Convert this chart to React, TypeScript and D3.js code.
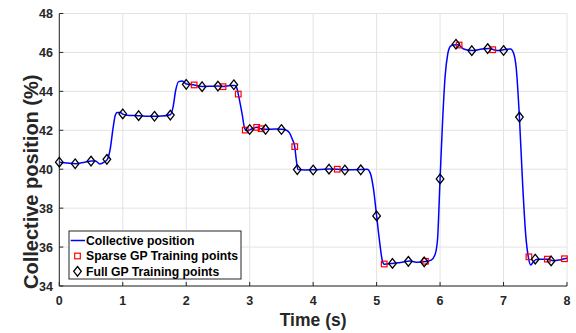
import React from "react";
import * as d3 from "d3";

const xTicks = [0, 1, 2, 3, 4, 5, 6, 7, 8];
const yTicks = [34, 36, 38, 40, 42, 44, 46, 48];

const lineT = [0, 0.12, 0.26, 0.4, 0.51, 0.57, 0.64, 0.7, 0.76, 0.8, 0.85, 0.88, 0.91, 0.96, 1.0, 1.1, 1.25, 1.4, 1.5, 1.61, 1.75, 1.79, 1.835, 1.88, 1.94, 2.0, 2.125, 2.25, 2.4, 2.5, 2.58, 2.7, 2.77, 2.8, 2.82, 2.88, 2.92, 2.95, 3.0, 3.11, 3.18, 3.25, 3.4, 3.5, 3.58, 3.63, 3.67, 3.71, 3.73, 3.76, 3.88, 4.0, 4.25, 4.38, 4.5, 4.75, 4.85, 4.9, 4.95, 5.0, 5.05, 5.09, 5.12, 5.27, 5.4, 5.52, 5.65, 5.77, 5.86, 5.92, 5.96, 6.0, 6.04, 6.08, 6.12, 6.16, 6.2, 6.28, 6.37, 6.52, 6.66, 6.77, 6.9, 7.02, 7.11, 7.16, 7.2, 7.25, 7.3, 7.35, 7.39, 7.43, 7.47, 7.53, 7.7, 7.78, 7.87, 7.96, 8.0];
const lineV = [40.36, 40.32, 40.28, 40.36, 40.42, 40.42, 40.27, 40.35, 40.52, 41.0, 42.18, 42.75, 42.92, 42.92, 42.83, 42.76, 42.75, 42.72, 42.72, 42.73, 42.8, 43.15, 44.07, 44.5, 44.53, 44.38, 44.33, 44.25, 44.26, 44.27, 44.25, 44.3, 44.3, 44.15, 43.86, 42.85, 42.1, 41.97, 42.02, 42.15, 42.08, 42.05, 42.06, 42.05, 42.0, 41.85, 41.55, 41.16, 40.6, 39.98, 39.96, 39.97, 40.01, 40.0, 39.97, 39.98, 40.0, 39.8, 39.0, 37.6, 36.2, 35.3, 35.12, 35.17, 35.22, 35.28, 35.22, 35.26, 35.33, 35.6, 36.4, 39.5, 42.5, 44.8, 45.9, 46.3, 46.38, 46.4, 46.18, 46.1, 46.18, 46.2, 46.1, 46.15, 46.18, 45.95, 45.2, 42.68, 39.3, 36.6, 35.5, 35.08, 35.25, 35.37, 35.37, 35.3, 35.33, 35.4, 35.42];

const sparseT = [2.125, 2.58, 2.82, 2.93, 3.11, 3.18, 3.71, 4.38, 5.12, 5.77, 6.3, 6.83, 7.4, 7.69, 7.96];
const sparseV = [44.33, 44.24, 43.86, 42.01, 42.15, 42.08, 41.16, 40.0, 35.13, 35.27, 46.38, 46.14, 35.5, 35.38, 35.4];

const fullT = [0, 0.25, 0.5, 0.75, 1.0, 1.25, 1.5, 1.75, 2.0, 2.25, 2.5, 2.75, 3.0, 3.25, 3.5, 3.75, 4.0, 4.25, 4.5, 4.75, 5.0, 5.25, 5.5, 5.75, 6.0, 6.25, 6.5, 6.75, 7.0, 7.25, 7.5, 7.75];
const fullV = [40.36, 40.28, 40.42, 40.51, 42.84, 42.75, 42.72, 42.78, 44.36, 44.24, 44.27, 44.34, 42.04, 42.05, 42.04, 39.98, 39.96, 40.0, 39.96, 39.97, 37.6, 35.16, 35.27, 35.24, 39.5, 46.42, 46.09, 46.2, 46.1, 42.68, 35.38, 35.29];

const legendLabels = ["Collective position", "Sparse GP Training points", "Full GP Training points"];

const W = 576, H = 333;
const L = 59.3, R = 567, T = 13.5, B = 286;
const FONT = "'Liberation Sans', Arial, Helvetica, sans-serif";
const AX = "#262626";
const GRID = "#e3e3e3";

function diamond(cx: number, cy: number, hw = 3.8, hh = 4.8) {
  return `M${cx},${cy - hh}L${cx + hw},${cy}L${cx},${cy + hh}L${cx - hw},${cy}Z`;
}

export default function App() {
  const x = d3.scaleLinear().domain([0, 8]).range([L, R]);
  const y = d3.scaleLinear().domain([34, 48]).range([B, T]);
  const lineData = lineT.map((t, i) => [t, lineV[i]] as [number, number]);
  const path = d3.line<[number, number]>().x(d => x(d[0])).y(d => y(d[1])).curve(d3.curveMonotoneX)(lineData) || "";

  const lgX = 69, lgY = 231, lgW = 172, lgH = 48;
  const rows = [240.5, 256, 271.3];

  return (
    <svg width={W} height={H} style={{ position: "absolute", left: 0, top: 0, display: "block", background: "#fff" }} fontFamily={FONT}>
      <rect x={0} y={0} width={W} height={H} fill="#fff" />
      {xTicks.map(t => (
        <line key={"gx" + t} x1={x(t)} x2={x(t)} y1={T} y2={B} stroke={GRID} strokeWidth={1} />
      ))}
      {yTicks.map(v => (
        <line key={"gy" + v} x1={L} x2={R} y1={y(v)} y2={y(v)} stroke={GRID} strokeWidth={1} />
      ))}
      <line x1={L} x2={L} y1={T} y2={B} stroke={AX} strokeWidth={1} />
      <line x1={L} x2={R} y1={B} y2={B} stroke={AX} strokeWidth={1} />
      {xTicks.map(t => (
        <g key={"tx" + t}>
          <line x1={x(t)} x2={x(t)} y1={B} y2={B - 4} stroke={AX} strokeWidth={1} />
          <text x={x(t)} y={305} textAnchor="middle" fontSize={12.5} fontWeight="bold" fill={AX}>{t}</text>
        </g>
      ))}
      {yTicks.map(v => (
        <g key={"ty" + v}>
          <line x1={L} x2={L + 4} y1={y(v)} y2={y(v)} stroke={AX} strokeWidth={1} />
          <text x={53} y={y(v) + 4.5} textAnchor="end" fontSize={12.5} fontWeight="bold" fill={AX}>{v}</text>
        </g>
      ))}
      <text x={(L + R) / 2} y={326} textAnchor="middle" fontSize={17.5} fontWeight="bold" fill={AX}>Time (s)</text>
      <text transform={`translate(38,${(T + B) / 2 + 32}) rotate(-90)`} textAnchor="middle" fontSize={20} fontWeight="bold" fill={AX}>Collective position (%)</text>

      <path d={path} fill="none" stroke="#0000ff" strokeWidth={1.5} />
      {sparseT.map((t, i) => (
        <rect key={"s" + i} x={x(t) - 2.8} y={y(sparseV[i]) - 2.8} width={5.6} height={5.6} fill="none" stroke="#ff0000" strokeWidth={1.2} />
      ))}
      {fullT.map((t, i) => (
        <path key={"f" + i} d={diamond(x(t), y(fullV[i]))} fill="none" stroke="#000" strokeWidth={1.3} />
      ))}

      <rect x={lgX} y={lgY} width={lgW} height={lgH} fill="#fff" stroke="#262626" strokeWidth={1} />
      <line x1={70.7} x2={85} y1={rows[0]} y2={rows[0]} stroke="#0000ff" strokeWidth={1.5} />
      <rect x={77.5 - 2.8} y={rows[1] - 2.8} width={5.6} height={5.6} fill="none" stroke="#ff0000" strokeWidth={1.2} />
      <path d={diamond(77.5, rows[2])} fill="none" stroke="#000" strokeWidth={1.3} />
      {legendLabels.map((s, i) => (
        <text key={"l" + i} x={86} y={rows[i] + 4.3} fontSize={12.2} fontWeight="bold" fill="#000">{s}</text>
      ))}
    </svg>
  );
}
